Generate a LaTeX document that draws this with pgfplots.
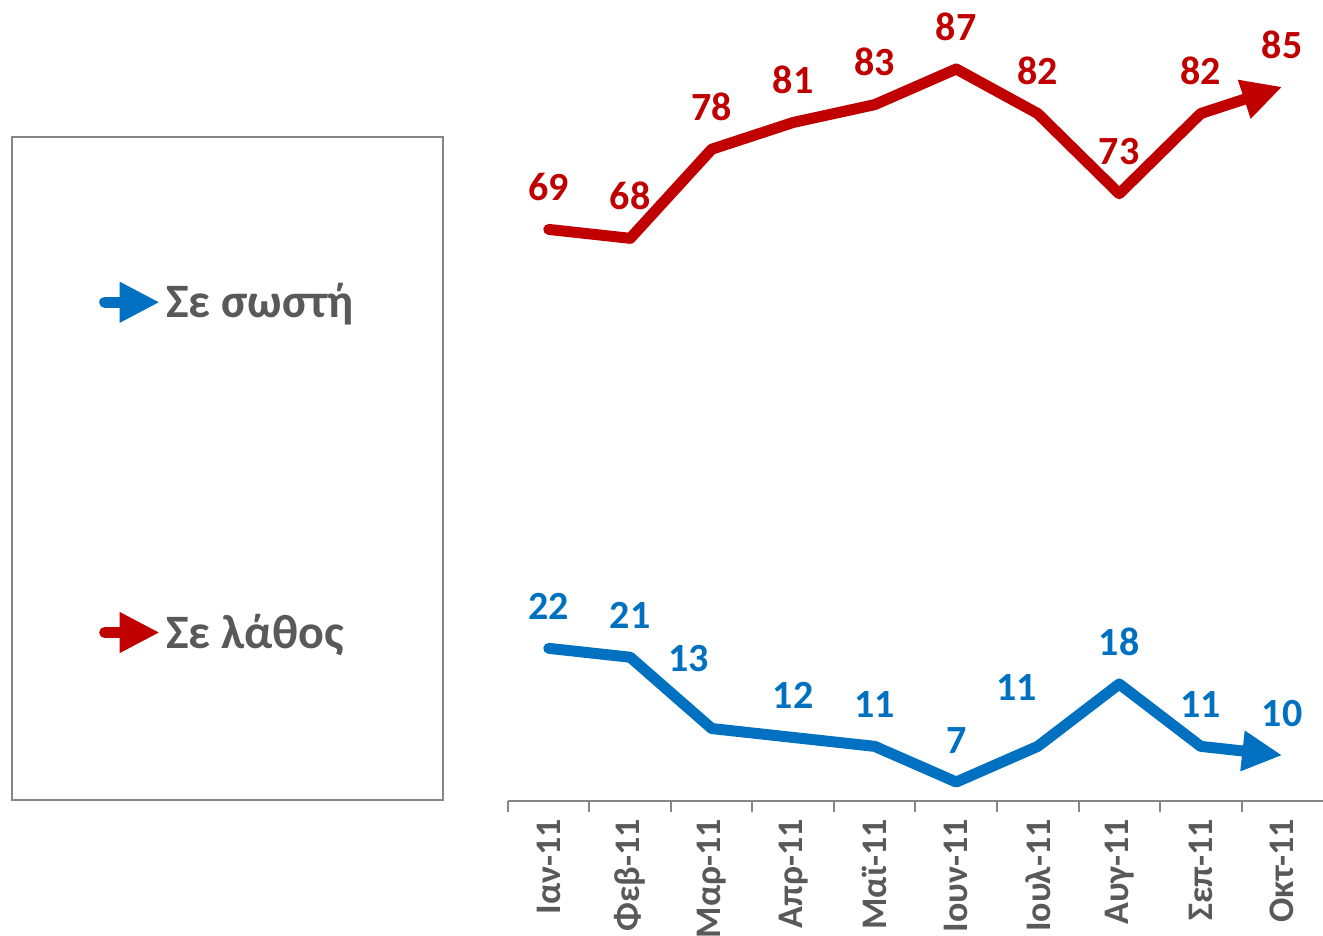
\documentclass[border=0pt]{standalone}
\usepackage{pgfplots}
\pgfplotsset{compat=1.18}
\usepackage{pgfplotstable}
\usepackage{fontspec}
\setmainfont{Carlito}
\usetikzlibrary{arrows.meta}
\definecolor{wrongred}{HTML}{C00000}
\definecolor{rightblue}{HTML}{0070C0}
\definecolor{txtgray}{HTML}{595959}
\definecolor{axgray}{HTML}{868686}

% x = month index, dx/dy = label nudge (pt)
\pgfplotstableread{
x y dx dy
0 22 0 0
1 21 0 0
2 13 -11.5 14
3 12 0 0
4 11 0 0
5 7 0 0
6 11 -10.5 8.5
7 18 0 0
8 11 0 0
9 10 0 0
}\rightdir

\pgfplotstableread{
x y
0 69
1 68
2 78
3 81
4 83
5 87
6 82
7 73
8 82
9 85
}\wrongdir

\begin{document}
\begin{tikzpicture}
\begin{axis}[
  scale only axis, width=407.5pt, height=400.5pt,
  xmin=-0.5, xmax=9.5, ymin=4.87, ymax=94.74,
  axis x line*=bottom, axis y line=none,
  x axis line style={axgray, line width=1pt},
  xtick={0,...,9},
  xticklabels={Ιαν-11,Φεβ-11,Μαρ-11,Απρ-11,Μαϊ-11,Ιουν-11,Ιουλ-11,Αυγ-11,Σεπ-11,Οκτ-11},
  minor xtick={-0.5,0.5,...,8.5},
  tick align=outside, major tick length=0pt, minor tick length=5.5pt,
  every minor tick/.style={axgray, line width=1pt},
  xticklabel style={rotate=90, anchor=east, text=txtgray,
    font=\fontsize{18}{18}\selectfont\bfseries},
  xticklabel shift=5.5pt,
  clip=false,
  /pgf/number format/assume math mode=true,
  nodes near coords,
  every node near coord/.append style={font=\fontsize{20}{20}\selectfont\bfseries,
    inner sep=0pt, anchor=south, yshift=11.5pt},
  legend style={at={(-0.3448,0.4165)}, anchor=center, draw=none, fill=none,
    font=\fontsize{24}{24}\selectfont\bfseries, text=txtgray, row sep=145.5pt,
    nodes={inner sep=0.5pt}},
  legend cell align=left,
  legend image code/.code={\draw (0pt,0pt) -- (27.5pt,0pt);},
]
\addplot[rightblue, line width=5.5pt, line cap=round, line join=round,
  -{Triangle[length=20pt,width=19pt]},
  visualization depends on={\thisrow{dx} \as \dx},
  visualization depends on={\thisrow{dy} \as \dy},
  every node near coord/.append style={text=rightblue, xshift=\dx pt, yshift=\dy pt}]
  table[x=x, y=y] {\rightdir};
\addlegendentry{Σε σωστή}
\addplot[wrongred, line width=5.5pt, line cap=round, line join=round,
  -{Triangle[length=20pt,width=19pt]},
  every node near coord/.append style={text=wrongred}]
  table[x=x, y=y] {\wrongdir};
\addlegendentry{Σε λάθος}
\draw[axgray, line width=1pt] (axis description cs:-0.6086,0.00125)
  rectangle (axis description cs:-0.0798,0.829);
\end{axis}
\pgfresetboundingbox
\path ([xshift=-254pt,yshift=-67pt]current axis.south west) rectangle (current axis.north east);
\end{tikzpicture}
\end{document}
